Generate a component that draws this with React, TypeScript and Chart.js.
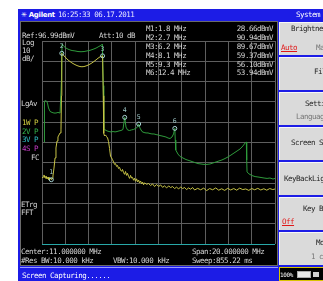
import React, { useEffect, useRef } from "react";
import { Chart, registerables } from "chart.js";
Chart.register(...registerables);

const centerMHz = 11;
const spanMHz = 20;
const refLevel = 96.99;
const dbPerDiv = 10;
const divisions = 10;

const trace1Freq = [1.00,1.09,1.17,1.26,1.34,1.43,1.52,1.60,1.69,1.77,1.80,1.86,1.94,2.03,2.12,2.20,2.29,2.37,2.46,2.55,2.63,2.67,2.70,2.90,3.07,3.24,3.40,3.57,3.75,3.92,4.09,4.26,4.43,4.60,4.78,4.95,5.12,5.29,5.46,5.64,5.81,5.98,6.20,6.26,6.30,6.37,6.45,6.54,6.63,6.71,6.80,6.88,6.97,7.05,7.14,7.23,7.31,7.40,7.48,7.57,7.66,7.74,7.83,7.91,8.00,8.09,8.17,8.26,8.34,8.43,8.52,8.60,8.69,8.77,8.86,8.94,9.03,9.12,9.20,9.29,9.37,9.46,9.55,9.63,9.72,9.80,9.98,10.15,10.32,10.49,10.66,10.84,11.01,11.18,11.35,11.52,11.70,11.87,12.04,12.21,12.38,12.55,12.73,12.90,13.07,13.24,13.41,13.58,13.76,13.93,14.10,14.36,14.62,14.88,15.13,15.39,15.65,15.91,16.17,16.42,16.68,16.94,17.20,17.46,17.71,17.97,18.23,18.49,18.75,19.00,19.26,19.52,19.78,20.04,20.29,20.55,20.81,21.00];
const trace1Level = [29.5,30.0,31.0,29.5,30.5,29.0,30.0,28.5,29.5,29.0,28.66,29.2,30.5,34.4,39.4,44.3,47.7,49.7,50.7,51.7,53.2,70.0,90.94,89.6,88.6,87.6,86.9,86.2,85.6,85.1,84.7,84.4,84.3,84.4,84.7,85.1,85.6,86.2,86.9,87.7,88.5,89.2,89.67,70.0,51.5,50.2,50.7,49.9,49.2,47.5,44.0,40.3,39.4,38.6,37.4,36.2,36.6,35.2,35.7,34.2,34.7,33.4,32.8,33.7,32.2,31.3,32.7,30.8,31.8,30.3,29.3,30.8,29.5,29.8,28.4,29.4,27.9,29.1,27.6,28.5,27.1,28.0,26.6,27.5,26.2,27.1,26.4,26.8,25.8,26.6,25.3,26.3,25.3,26.1,24.9,25.6,24.6,25.6,24.8,25.3,24.3,25.0,24.1,25.1,24.3,24.8,23.8,24.6,24.0,24.8,23.6,24.4,23.7,24.5,23.3,24.3,23.7,24.6,23.5,24.2,23.4,24.4,23.6,24.3,23.5,24.5,23.8,24.1,23.4,24.3,23.7,24.4,23.6,24.2,23.5,24.3,23.8,24.1];

const trace2Freq = [1.18,1.21,1.30,1.39,1.47,1.56,1.69,1.86,2.03,2.20,2.37,2.55,2.63,2.67,2.72,2.89,3.06,3.23,3.40,3.58,3.83,4.09,4.35,4.61,4.86,5.12,5.38,5.64,5.89,6.11,6.18,6.22,6.26,6.30,6.41,6.58,6.75,6.92,7.10,7.27,7.44,7.61,7.78,7.95,8.10,8.21,8.34,8.51,8.68,8.85,9.03,9.20,9.30,9.41,9.58,9.76,9.93,10.10,10.27,10.44,10.61,10.79,10.96,11.13,11.30,11.47,11.64,11.82,11.99,12.16,12.29,12.40,12.44,12.48,12.67,12.85,13.10,13.36,13.62,13.88,14.13,14.39,14.65,14.91,15.16,15.42,15.68,15.94,16.19,16.45,16.71,16.97,17.22,17.48,17.74,18.00,18.25,18.47,18.54,18.57,18.60,18.77,19.03,19.29,19.54,19.80,20.06,20.32,20.57,20.83,21.00];
const trace2Level = [47.2,67.4,67.7,67.4,66.4,64.0,62.3,61.8,61.5,61.5,61.8,61.5,61.5,77.8,95.5,94.3,93.5,93.0,92.6,92.3,92.1,91.8,91.7,91.8,92.1,92.4,92.9,93.5,94.3,95.0,95.5,95.5,75.0,54.1,53.2,52.7,52.4,52.2,52.4,52.2,52.4,52.7,52.9,53.4,59.37,54.6,53.2,52.9,53.2,53.4,53.9,54.6,56.10,54.1,52.4,51.9,51.7,51.7,51.4,51.2,51.2,50.9,50.7,50.4,50.2,49.95,49.7,49.2,48.96,49.7,51.2,53.94,48.2,43.3,41.3,40.1,39.35,38.6,38.1,37.6,37.1,36.6,36.4,36.2,36.2,36.4,36.9,37.4,37.9,38.4,39.1,39.9,40.8,41.8,42.8,43.8,45.3,47.0,47.2,38.4,32.5,31.5,30.7,30.2,30.0,29.75,29.5,29.3,29.5,29.0,29.3];

const markerLabels = ["1", "2", "3", "4", "5", "6"];
const markerFreq = [1.8, 2.7, 6.2, 8.1, 9.3, 12.4];
const markerLevel = [28.66, 90.94, 89.67, 59.37, 56.1, 53.94];

const FONT = '"DejaVu Sans Mono", monospace';

function T(props: { x?: number; r?: number; y: number; c?: string; children: any; s?: any }) {
  const st: any = {
    position: "absolute",
    top: props.y - 4,
    fontFamily: FONT,
    fontSize: "7.5px",
    letterSpacing: "-0.5px",
    lineHeight: "8px",
    whiteSpace: "nowrap",
    color: props.c || "#d4d4d4",
    ...(props.s || {}),
  };
  if (props.r !== undefined) st.right = props.r;
  else st.left = props.x;
  return <div style={st}>{props.children}</div>;
}

const markerLabelPlugin = {
  id: "markerLabels",
  afterDatasetsDraw(chart: any) {
    const { ctx, scales } = chart;
    ctx.save();
    ctx.font = '6.5px "DejaVu Sans Mono"';
    ctx.fillStyle = "#9cc4c4";
    ctx.textAlign = "center";
    ctx.textBaseline = "middle";
    markerLabels.forEach((l, i) => {
      ctx.fillText(l, scales.x.getPixelForValue(markerFreq[i]), scales.y.getPixelForValue(markerLevel[i]) - 7);
    });
    ctx.restore();
  },
};

export default function App() {
  const ref = useRef<HTMLCanvasElement>(null);
  useEffect(() => {
    const xMin = centerMHz - spanMHz / 2;
    const xMax = centerMHz + spanMHz / 2;
    const yMax = refLevel;
    const yMin = refLevel - dbPerDiv * divisions;
    const xGrid = Array.from({ length: divisions + 1 }, (_, i) => xMin + (i * spanMHz) / divisions);
    const yGrid = Array.from({ length: divisions + 1 }, (_, i) => yMin + i * dbPerDiv);
    const chart = new Chart(ref.current as HTMLCanvasElement, {
      type: "line",
      data: {
        datasets: [
          {
            label: "Markers",
            data: markerFreq.map((f, i) => ({ x: f, y: markerLevel[i] })),
            showLine: false,
            pointRadius: 2,
            pointBorderColor: "#a6d2d2",
            pointBackgroundColor: "rgba(0,0,0,0)",
            pointBorderWidth: 1,
          },
          {
            label: "1W",
            data: trace1Freq.map((f, i) => ({ x: f, y: trace1Level[i] })),
            borderColor: "#c8c446",
            borderWidth: 1,
            pointRadius: 0,
          },
          {
            label: "2V",
            data: trace2Freq.map((f, i) => ({ x: f, y: trace2Level[i] })),
            borderColor: "#2f9c3c",
            borderWidth: 1,
            pointRadius: 0,
          },
        ],
      },
      options: {
        responsive: false,
        maintainAspectRatio: false,
        animation: false,
        layout: { padding: 5 },
        plugins: { legend: { display: false }, tooltip: { enabled: false } },
        scales: {
          x: {
            type: "linear",
            min: xMin,
            max: xMax,
            afterBuildTicks: (s: any) => {
              s.ticks = xGrid.map((v) => ({ value: v }));
            },
            ticks: { display: false },
            grid: { color: "#5e5e5e", drawTicks: false },
            border: { display: false },
          },
          y: {
            type: "linear",
            min: yMin,
            max: yMax,
            afterBuildTicks: (s: any) => {
              s.ticks = yGrid.map((v) => ({ value: v }));
            },
            ticks: { display: false },
            grid: { color: (c: any) => (c.index === 0 ? "#28a8a8" : "#5e5e5e"), drawTicks: false },
            border: { display: false },
          },
        },
      },
      plugins: [markerLabelPlugin],
    } as any);
    return () => chart.destroy();
  }, []);

  const btnTops = [22, 57, 92, 127, 162, 197, 232];
  const dark = "#1e1e1e";
  const grey = "#777";

  return (
    <div style={{ position: "absolute", left: 0, top: 0, width: 323, height: 281, overflow: "hidden", background: "#fff" }}>
      <div style={{ position: "absolute", left: 18, top: 9, width: 305, height: 272, background: "#1c1ce6" }} />
      <div style={{ position: "absolute", left: 20, top: 21, width: 258, height: 245, background: "#000", border: "1px solid #6a6a6a", boxSizing: "border-box" }} />
      <canvas ref={ref} width={243} height={213} style={{ position: "absolute", left: 37, top: 36, width: 243, height: 213 }} />

      {/* title bar */}
      <T x={21} y={15} c="#fff" s={{ fontFamily: "DejaVu Sans", fontWeight: "bold", letterSpacing: "-0.3px", fontSize: "7px" }}>✳ Agilent</T>
      <T x={58} y={15} c="#e6e6ff">16:25:33 06.17.2011</T>
      <T x={296} y={15} c="#fff">System</T>

      {/* header texts */}
      <T x={22} y={36}>{"Ref:" + refLevel.toFixed(2) + "dBmV"}</T>
      <T x={99} y={36}>Att:10 dB</T>
      <T x={22} y={43}>Log</T>
      <T x={22} y={51}>{String(dbPerDiv)}</T>
      <T x={22} y={59}>dB/</T>

      {markerLabels.map((l, i) => (
        <T key={"mf" + i} x={146} y={29.3 + i * 8.8}>{"M" + l + ":" + markerFreq[i] + " MHz"}</T>
      ))}
      {markerLabels.map((l, i) => (
        <T key={"mv" + i} r={50} y={29.3 + i * 8.8}>{markerLevel[i].toFixed(2) + "dBmV"}</T>
      ))}

      <T x={21} y={104}>LgAv</T>
      <T x={22} y={122.7} c="#d2d040">1W P</T>
      <T x={22} y={131.5} c="#34b44a">2V P</T>
      <T x={22} y={140.3} c="#30c0c4">3V P</T>
      <T x={22} y={149} c="#c83cc8">4S P</T>
      <T x={31} y={158}>FC</T>
      <T x={21} y={205}>ETrg</T>
      <T x={21} y={212.5}>FFT</T>

      <T x={21} y={252}>{"Center:" + centerMHz.toFixed(6) + " MHz"}</T>
      <T x={21} y={261}>#Res BW:10.000 kHz</T>
      <T x={113} y={261}>VBW:10.000 kHz</T>
      <T x={192} y={252}>{"Span:" + spanMHz.toFixed(6) + " MHz"}</T>
      <T x={192} y={261}>Sweep:855.22 ms</T>

      {/* bottom message bar */}
      <div style={{ position: "absolute", left: 20, top: 267, width: 258, height: 14, background: "#1c1ce6", borderTop: "1px solid #9a9aff", boxSizing: "border-box" }} />
      <T x={22} y={276} c="#fff">Screen Capturing......</T>

      {/* right soft keys */}
      {btnTops.map((t, i) => (
        <div key={"b" + i} style={{ position: "absolute", left: 279, top: t, width: 50, height: 33, background: "#dadada", borderTop: "1px solid #f6f6f6", borderLeft: "1px solid #f6f6f6", boxSizing: "border-box" }} />
      ))}
      <T x={291} y={29} c={dark}>Brightness</T>
      <T x={281} y={48} c="#e01818" s={{ textDecoration: "underline" }}>Auto</T>
      <T x={316} y={48} c={grey}>Man</T>
      <T x={314} y={72} c={dark}>File</T>
      <T x={305} y={104} c={dark}>Setting</T>
      <T x={296} y={117} c={grey}>Language</T>
      <T x={291} y={143} c={dark}>Screen Shot</T>
      <T x={284} y={178.5} c={dark}>KeyBackLight</T>
      <T x={303} y={209} c={dark}>Key Beep</T>
      <T x={282} y={222} c="#e01818" s={{ textDecoration: "underline" }}>Off</T>
      <T x={316} y={243} c={dark}>Mode</T>
      <T x={311} y={257} c={grey}>1 cm</T>

      {/* status box */}
      <div style={{ position: "absolute", left: 279, top: 267, width: 46, height: 14, background: "#000", border: "1px solid #d8c400", boxSizing: "border-box" }} />
      <T x={280} y={275} c="#fff" s={{ fontSize: "6px", letterSpacing: "-0.4px" }}>100%</T>
      <div style={{ position: "absolute", left: 297, top: 271, width: 14, height: 7, background: "#e8e8e8", border: "1px solid #aaa", boxSizing: "border-box" }} />
      <div style={{ position: "absolute", left: 313, top: 272, width: 6, height: 5, background: "#cfcfcf" }} />
    </div>
  );
}
